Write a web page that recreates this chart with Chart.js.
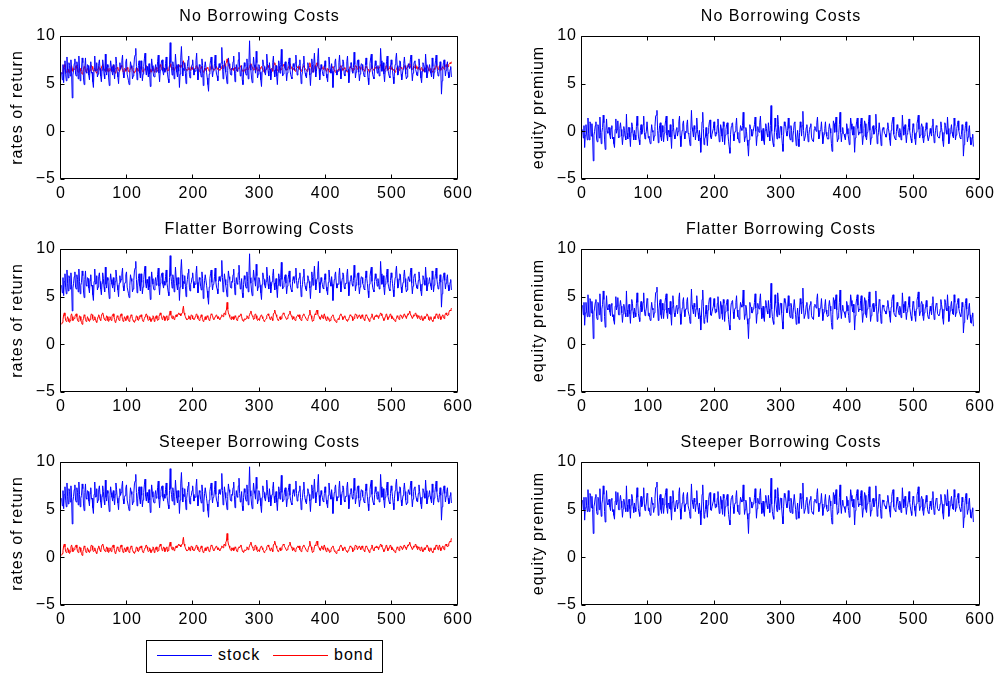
<!DOCTYPE html>
<html><head><meta charset="utf-8">
<script src="https://cdn.jsdelivr.net/npm/chart.js@4.4.1/dist/chart.umd.min.js"></script>
<style>
html,body{margin:0;padding:0;background:#fff;width:1000px;height:675px;overflow:hidden;position:relative;font-family:"Liberation Sans",Arial,sans-serif;}
.wrap{position:absolute;}
.ttl{position:absolute;font-size:16px;line-height:18px;letter-spacing:1px;color:#000;text-align:center;white-space:nowrap;}
#legend{position:absolute;left:146px;top:640px;width:235px;height:31px;border:1px solid #000;background:#fff;}
#legend .ln{position:absolute;height:1px;width:55px;top:14px;}
#legend .tx{position:absolute;top:5px;font-size:16px;line-height:18px;letter-spacing:1px;color:#000;}
</style></head><body>
<script>
// ---- data (x = 1, 2, 3, ... 590) ----
const xStart = 1, xStep = 1;
const panelTitles = ["No Borrowing Costs", "Flatter Borrowing Costs", "Steeper Borrowing Costs"];
const leftLabel = "rates of return";
const rightLabel = "equity premium";
const xTicks = [0, 100, 200, 300, 400, 500, 600];
const yTicks = [-5, 0, 5, 10];
const seriesNames = ["stock", "bond"];

const stock = [
6.2,5.4,7.0,5.1,6.6,7.4,6.0,5.3,7.8,6.4,
5.6,7.2,6.9,5.8,7.5,6.3,3.5,5.9,6.4,7.1,
7.6,6.0,5.8,7.3,6.8,5.5,7.9,6.6,5.3,6.2,
6.5,7.7,7.2,5.6,4.9,6.8,7.7,6.2,6.1,7.0,
6.9,5.9,5.4,6.7,7.3,6.1,6.2,5.2,4.6,6.6,
7.9,6.3,6.4,7.2,5.7,6.0,7.1,7.5,6.6,5.8,
5.2,6.4,7.5,6.9,6.0,5.5,8.1,6.3,5.9,7.0,
6.7,5.6,4.8,6.5,7.4,6.8,6.3,5.9,7.0,6.2,
5.5,6.6,7.8,7.1,6.2,5.7,5.0,6.4,7.2,6.5,
6.8,7.4,8.0,6.1,5.6,6.3,6.5,7.3,7.6,6.0,
6.0,5.3,4.9,6.2,7.3,6.9,6.6,5.5,5.8,6.7,
7.7,8.0,8.7,6.8,5.4,6.2,6.9,7.4,6.1,5.6,
7.4,6.5,5.3,6.0,6.8,7.6,8.2,6.4,5.9,6.8,
6.4,5.7,7.1,6.0,4.7,6.3,7.6,6.9,6.3,5.8,
5.7,6.6,7.0,6.2,6.5,7.3,8.0,6.1,5.2,6.4,
6.9,7.4,7.5,6.3,5.9,6.6,6.2,7.1,7.8,6.5,
6.0,5.5,5.1,7.0,9.3,7.2,6.6,5.9,7.3,6.8,
5.5,6.4,8.1,7.0,6.2,5.7,7.0,6.3,4.6,6.0,
7.7,8.9,7.3,5.8,6.6,6.4,7.2,6.1,5.0,6.2,
6.8,7.5,7.9,6.0,5.6,6.3,6.5,7.0,7.5,6.6,
5.9,6.4,6.3,7.4,8.2,6.5,5.4,6.1,7.0,6.8,
6.1,5.7,7.6,6.9,4.8,5.9,6.7,7.3,7.3,6.2,
5.6,4.9,4.2,6.0,6.9,7.4,7.8,6.5,5.7,6.3,
6.4,7.1,8.0,6.6,6.0,5.8,5.3,6.5,7.1,6.7,
6.6,7.2,8.8,7.0,5.5,6.3,7.4,6.8,6.2,5.7,
5.0,6.4,7.7,7.1,6.8,6.0,5.9,6.6,6.5,7.3,
7.9,6.5,5.2,6.1,7.0,6.4,6.3,7.5,8.3,6.7,
5.8,6.2,6.9,5.4,4.9,6.3,7.2,6.8,6.1,5.9,
7.6,6.6,5.5,7.2,9.5,7.0,6.4,5.6,5.1,6.5,
7.8,7.0,6.7,6.1,8.4,7.2,5.6,6.0,7.0,6.8,
6.2,5.4,4.7,6.3,7.5,7.0,6.8,6.2,5.9,6.6,
8.1,7.1,6.3,5.8,7.2,6.5,5.4,6.1,6.6,7.2,
7.9,6.4,5.7,6.3,6.9,5.8,4.9,6.2,7.4,6.9,
6.1,7.0,8.6,6.8,5.8,6.0,6.5,7.1,7.3,6.4,
5.3,6.1,6.8,7.3,7.7,6.5,6.0,5.7,5.5,6.6,
7.1,6.8,6.4,7.2,8.0,6.7,5.9,6.2,6.7,7.0,
7.5,6.3,5.0,5.8,6.3,7.1,7.9,6.6,6.1,5.8,
5.6,6.5,7.2,6.9,6.6,5.9,4.8,6.1,7.6,7.0,
6.2,7.1,8.2,6.8,5.7,6.3,6.9,7.6,8.7,6.5,
5.4,6.2,7.0,6.6,6.3,5.9,5.8,6.7,7.4,6.8,
6.0,5.6,5.2,6.5,7.8,7.0,6.5,6.1,7.1,6.3,
4.6,5.9,6.8,7.3,7.6,6.4,5.9,6.3,6.3,7.2,
8.0,6.6,5.5,6.2,6.9,7.5,7.3,6.0,5.8,6.4,
6.4,7.3,7.9,6.5,5.1,5.9,6.7,7.2,7.2,6.3,
6.1,6.7,8.3,7.0,5.6,6.2,6.6,7.4,7.5,6.2,
5.3,6.0,6.8,7.1,7.0,6.4,6.2,5.8,5.7,6.9,
7.7,7.0,6.4,5.6,4.9,6.3,7.1,7.7,8.1,6.6,
6.0,5.7,5.5,6.6,7.4,6.9,6.6,6.1,6.9,6.4,
5.8,6.2,8.7,7.4,6.3,6.8,7.2,6.0,5.2,6.3,
6.7,7.3,7.9,6.5,6.1,5.8,5.6,6.7,7.5,7.0,
6.4,5.7,5.0,6.2,7.0,7.6,8.2,6.9,5.9,6.1,
6.8,7.4,7.3,6.0,5.4,6.0,6.5,7.1,7.8,6.9,
6.0,5.5,5.7,6.6,7.1,6.8,6.6,7.5,8.0,6.4,
5.3,6.1,6.9,7.3,7.4,6.5,6.2,5.9,5.8,6.7,
7.6,6.9,6.3,5.6,5.1,6.3,7.2,7.0,6.7,6.2,
8.1,7.0,5.6,6.0,6.4,6.6,7.0,6.4,6.1,5.7,
7.7,6.8,5.5,6.2,6.8,7.4,8.0,6.9,6.3,5.8,
5.9,6.6,7.3,6.5,3.9,5.3,6.6,7.2,7.5,6.7,
5.8,6.4,6.9,7.3,6.2,5.6,5.7,6.5,6.8,5.7];

const bondNo = [
6.0,6.1,6.4,6.8,7.0,6.7,6.3,6.2,6.4,6.6,
6.5,6.2,6.1,6.3,6.7,6.9,6.6,6.3,6.4,6.5,
6.6,6.8,6.9,6.6,6.3,6.2,6.4,6.7,6.6,6.3,
6.1,6.0,6.3,6.5,6.8,6.7,6.4,6.2,6.3,6.6,
6.5,6.3,6.2,6.4,6.7,6.9,6.8,6.5,6.3,6.4,
6.6,6.5,6.2,6.1,6.4,6.6,6.8,6.6,6.4,6.3,
6.6,6.9,7.0,6.8,6.5,6.4,6.3,6.5,6.7,6.6,
6.3,6.2,6.4,6.6,6.5,6.3,6.6,6.8,6.9,6.6,
6.4,6.1,6.2,6.5,6.7,6.6,6.4,6.3,6.5,6.8,
6.9,6.7,6.4,6.2,6.4,6.6,6.5,6.3,6.6,6.7,
6.5,6.3,6.2,6.4,6.6,6.8,6.7,6.5,6.3,6.2,
6.1,6.3,6.5,6.7,6.6,6.4,6.3,6.5,6.7,6.6,
6.8,6.6,6.4,6.2,6.3,6.5,6.6,6.8,6.9,6.7,
6.5,6.3,6.4,6.6,6.5,6.2,6.3,6.5,6.7,6.6,
6.2,6.4,6.6,6.7,6.5,6.3,6.4,6.6,6.8,7.0,
6.8,6.6,6.4,6.5,6.7,6.6,6.3,6.4,6.6,6.7,
6.3,6.4,6.6,6.9,7.1,6.8,6.6,6.5,6.7,6.6,
6.4,6.5,6.7,6.8,6.6,6.7,6.9,7.0,6.8,6.9,
6.7,6.9,7.0,7.2,7.4,7.0,6.8,6.6,6.5,6.4,
6.4,6.5,6.7,6.6,6.4,6.6,6.8,6.7,6.5,6.5,
6.4,6.5,6.6,6.8,6.9,6.7,6.5,6.4,6.3,6.5,
6.6,6.8,6.6,6.4,6.2,6.3,6.5,6.6,6.4,6.5,
6.7,6.6,6.5,6.3,6.4,6.6,6.9,6.8,6.7,6.5,
6.4,6.5,6.6,6.7,6.8,6.6,6.5,6.6,6.5,6.4,
6.5,6.6,6.8,6.7,6.6,6.9,7.0,6.8,7.1,7.2,
7.6,7.3,7.0,6.8,6.6,6.5,6.4,6.6,6.5,6.6,
6.4,6.5,6.7,6.6,6.5,6.3,6.4,6.6,6.7,6.6,
6.8,6.9,6.6,6.4,6.3,6.2,6.4,6.5,6.4,6.5,
6.7,6.6,6.5,6.6,6.8,7.0,7.1,6.9,6.7,6.6,
6.4,6.5,6.8,6.9,6.7,6.5,6.3,6.4,6.5,6.3,
6.6,6.7,6.8,6.6,6.5,6.4,6.2,6.3,6.4,6.5,
6.7,6.8,6.9,6.7,6.6,6.4,6.5,6.6,6.5,6.3,
6.9,7.0,7.2,7.0,6.8,6.6,6.5,6.3,6.4,6.5,
6.6,6.4,6.5,6.7,6.8,7.0,6.9,6.7,6.6,6.6,
6.4,6.5,6.6,6.8,6.9,7.1,6.9,6.7,6.6,6.4,
6.6,6.5,6.4,6.3,6.5,6.6,6.7,6.8,6.6,6.8,
6.5,6.4,6.3,6.5,6.6,6.8,6.9,6.7,6.6,6.6,
6.4,6.3,6.4,6.6,6.8,7.2,6.9,6.7,6.5,6.2,
6.3,6.4,6.7,6.9,6.8,7.1,7.2,6.9,6.7,6.6,
6.5,6.4,6.6,6.8,6.6,6.5,6.7,6.9,6.6,6.5,
6.3,6.4,6.6,6.5,6.4,6.2,6.3,6.5,6.6,6.7,
6.8,6.6,6.4,6.3,6.2,6.1,6.3,6.4,6.5,6.4,
6.6,6.8,6.9,6.7,6.6,6.4,6.5,6.6,6.7,6.5,
6.4,6.3,6.2,6.4,6.5,6.6,6.8,6.7,6.6,6.6,
6.3,6.4,6.5,6.7,6.9,6.8,6.7,6.5,6.6,6.7,
6.8,6.6,6.5,6.7,6.8,6.6,6.5,6.4,6.3,6.6,
6.8,6.7,6.6,6.5,6.4,6.2,6.4,6.5,6.6,6.9,
6.6,6.5,6.4,6.6,6.7,6.6,6.8,6.7,6.6,6.5,
6.7,6.8,7.0,6.9,6.7,6.6,6.5,6.3,6.4,6.6,
6.8,6.9,6.6,6.4,6.5,6.6,6.8,6.9,6.7,6.5,
6.6,6.5,6.4,6.3,6.2,6.4,6.5,6.7,6.6,6.5,
6.4,6.6,6.8,6.7,6.6,6.5,6.6,6.8,6.9,6.7,
6.6,6.5,6.7,6.9,6.8,7.0,7.1,6.9,6.7,6.6,
6.5,6.6,6.8,6.7,6.9,7.0,6.8,6.6,6.5,6.7,
6.6,6.5,6.4,6.6,6.7,6.5,6.3,6.4,6.6,6.5,
6.6,6.7,6.9,6.8,6.6,6.4,6.3,6.5,6.6,6.4,
6.3,6.2,6.4,6.6,6.5,6.7,6.9,6.8,6.6,6.5,
6.7,6.9,6.6,6.4,6.5,6.7,6.8,6.6,6.5,6.7,
6.9,7.0,6.8,6.7,6.8,7.0,7.1,7.2,7.1,7.3];

const bondFlat = [
2.1,2.3,2.6,3.1,3.3,3.0,2.5,2.4,2.6,2.9,
2.7,2.4,2.3,2.5,3.0,3.2,2.9,2.5,2.6,2.7,
2.9,3.1,3.2,2.9,2.5,2.4,2.6,3.0,2.9,2.5,
2.3,2.1,2.5,2.7,3.1,3.0,2.6,2.4,2.5,2.9,
2.7,2.5,2.4,2.6,3.0,3.2,3.1,2.7,2.5,2.6,
2.9,2.7,2.4,2.3,2.6,2.9,3.1,2.9,2.6,2.5,
2.9,3.2,3.3,3.1,2.7,2.6,2.5,2.7,3.0,2.9,
2.5,2.4,2.6,2.9,2.7,2.5,2.9,3.1,3.2,2.9,
2.6,2.3,2.4,2.7,3.0,2.9,2.6,2.5,2.7,3.1,
3.2,3.0,2.6,2.4,2.6,2.9,2.7,2.5,2.9,3.0,
2.7,2.5,2.4,2.6,2.9,3.1,3.0,2.7,2.5,2.4,
2.3,2.5,2.7,3.0,2.9,2.6,2.5,2.7,3.0,2.9,
3.1,2.9,2.6,2.4,2.5,2.7,2.9,3.1,3.2,3.0,
2.7,2.5,2.6,2.9,2.7,2.4,2.5,2.7,3.0,2.9,
2.4,2.6,2.9,3.0,2.7,2.5,2.6,2.9,3.1,3.3,
3.1,2.9,2.6,2.7,3.0,2.9,2.5,2.6,2.9,3.0,
2.5,2.6,2.9,3.2,3.5,3.1,2.9,2.7,3.0,2.9,
2.6,2.7,3.0,3.1,2.9,3.0,3.2,3.3,3.1,3.2,
3.0,3.2,3.3,3.6,4.0,3.3,3.1,2.9,2.7,2.6,
2.6,2.7,3.0,2.9,2.6,2.9,3.1,3.0,2.7,2.7,
2.6,2.7,2.9,3.1,3.2,3.0,2.7,2.6,2.5,2.7,
2.9,3.1,2.9,2.6,2.4,2.5,2.7,2.9,2.6,2.7,
3.0,2.9,2.7,2.5,2.6,2.9,3.2,3.1,3.0,2.7,
2.6,2.7,2.9,3.0,3.1,2.9,2.7,2.9,2.7,2.6,
2.7,2.9,3.1,3.0,2.9,3.2,3.3,3.1,3.5,3.6,
4.4,3.7,3.3,3.1,2.9,2.7,2.6,2.9,2.7,2.9,
2.6,2.7,3.0,2.9,2.7,2.5,2.6,2.9,3.0,2.9,
3.1,3.2,2.9,2.6,2.5,2.4,2.6,2.7,2.6,2.7,
3.0,2.9,2.7,2.9,3.1,3.3,3.5,3.2,3.0,2.9,
2.6,2.7,3.1,3.2,3.0,2.7,2.5,2.6,2.7,2.5,
2.9,3.0,3.1,2.9,2.7,2.6,2.4,2.5,2.6,2.7,
3.0,3.1,3.2,3.0,2.9,2.6,2.7,2.9,2.7,2.5,
3.2,3.3,3.6,3.3,3.1,2.9,2.7,2.5,2.6,2.7,
2.9,2.6,2.7,3.0,3.1,3.3,3.2,3.0,2.9,2.9,
2.6,2.7,2.9,3.1,3.2,3.5,3.2,3.0,2.9,2.6,
2.9,2.7,2.6,2.5,2.7,2.9,3.0,3.1,2.9,3.1,
2.7,2.6,2.5,2.7,2.9,3.1,3.2,3.0,2.9,2.9,
2.6,2.5,2.6,2.9,3.1,3.6,3.2,3.0,2.7,2.4,
2.5,2.6,3.0,3.2,3.1,3.5,3.6,3.2,3.0,2.9,
2.7,2.6,2.9,3.1,2.9,2.7,3.0,3.2,2.9,2.7,
2.5,2.6,2.9,2.7,2.6,2.4,2.5,2.7,2.9,3.0,
3.1,2.9,2.6,2.5,2.4,2.3,2.5,2.6,2.7,2.6,
2.9,3.1,3.2,3.0,2.9,2.6,2.7,2.9,3.0,2.7,
2.6,2.5,2.4,2.6,2.7,2.9,3.1,3.0,2.9,2.9,
2.5,2.6,2.7,3.0,3.2,3.1,3.0,2.7,2.9,3.0,
3.1,2.9,2.7,3.0,3.1,2.9,2.7,2.6,2.5,2.9,
3.1,3.0,2.9,2.7,2.6,2.4,2.6,2.7,2.9,3.2,
2.9,2.7,2.6,2.9,3.0,2.9,3.1,3.0,2.9,2.7,
3.0,3.1,3.3,3.2,3.0,2.9,2.7,2.5,2.6,2.9,
3.1,3.2,2.9,2.6,2.7,2.9,3.1,3.2,3.0,2.7,
2.9,2.7,2.6,2.5,2.4,2.6,2.7,3.0,2.9,2.7,
2.6,2.9,3.1,3.0,2.9,2.7,2.9,3.1,3.2,3.0,
2.9,2.7,3.0,3.2,3.1,3.3,3.5,3.2,3.0,2.9,
2.7,2.9,3.1,3.0,3.2,3.3,3.1,2.9,2.7,3.0,
2.9,2.7,2.6,2.9,3.0,2.7,2.5,2.6,2.9,2.7,
2.9,3.0,3.2,3.1,2.9,2.6,2.5,2.7,2.9,2.6,
2.5,2.4,2.6,2.9,2.7,3.0,3.2,3.1,2.9,2.7,
3.0,3.2,2.9,2.6,2.7,3.0,3.1,2.9,2.7,3.0,
3.2,3.3,3.1,3.0,3.1,3.3,3.5,3.6,3.5,3.8];

const bondSteep = [
0.2,0.4,0.7,1.2,1.4,1.1,0.6,0.5,0.7,1.0,
0.8,0.5,0.4,0.6,1.1,1.3,1.0,0.6,0.7,0.8,
1.0,1.2,1.3,1.0,0.6,0.5,0.7,1.1,1.0,0.6,
0.4,0.2,0.6,0.8,1.2,1.1,0.7,0.5,0.6,1.0,
0.8,0.6,0.5,0.7,1.1,1.3,1.2,0.8,0.6,0.7,
1.0,0.8,0.5,0.4,0.7,1.0,1.2,1.0,0.7,0.6,
1.0,1.3,1.4,1.2,0.8,0.7,0.6,0.8,1.1,1.0,
0.6,0.5,0.7,1.0,0.8,0.6,1.0,1.2,1.3,1.0,
0.7,0.4,0.5,0.8,1.1,1.0,0.7,0.6,0.8,1.2,
1.3,1.1,0.7,0.5,0.7,1.0,0.8,0.6,1.0,1.1,
0.8,0.6,0.5,0.7,1.0,1.2,1.1,0.8,0.6,0.5,
0.4,0.6,0.8,1.1,1.0,0.7,0.6,0.8,1.1,1.0,
1.2,1.0,0.7,0.5,0.6,0.8,1.0,1.2,1.3,1.1,
0.8,0.6,0.7,1.0,0.8,0.5,0.6,0.8,1.1,1.0,
0.5,0.7,1.0,1.1,0.8,0.6,0.7,1.0,1.2,1.4,
1.2,1.0,0.7,0.8,1.1,1.0,0.6,0.7,1.0,1.1,
0.6,0.7,1.0,1.3,1.6,1.2,1.0,0.8,1.1,1.0,
0.7,0.8,1.1,1.2,1.0,1.1,1.3,1.4,1.2,1.3,
1.1,1.3,1.4,1.7,2.1,1.4,1.2,1.0,0.8,0.7,
0.7,0.8,1.1,1.0,0.7,1.0,1.2,1.1,0.8,0.8,
0.7,0.8,1.0,1.2,1.3,1.1,0.8,0.7,0.6,0.8,
1.0,1.2,1.0,0.7,0.5,0.6,0.8,1.0,0.7,0.8,
1.1,1.0,0.8,0.6,0.7,1.0,1.3,1.2,1.1,0.8,
0.7,0.8,1.0,1.1,1.2,1.0,0.8,1.0,0.8,0.7,
0.8,1.0,1.2,1.1,1.0,1.3,1.4,1.2,1.6,1.7,
2.5,1.8,1.4,1.2,1.0,0.8,0.7,1.0,0.8,1.0,
0.7,0.8,1.1,1.0,0.8,0.6,0.7,1.0,1.1,1.0,
1.2,1.3,1.0,0.7,0.6,0.5,0.7,0.8,0.7,0.8,
1.1,1.0,0.8,1.0,1.2,1.4,1.6,1.3,1.1,1.0,
0.7,0.8,1.2,1.3,1.1,0.8,0.6,0.7,0.8,0.6,
1.0,1.1,1.2,1.0,0.8,0.7,0.5,0.6,0.7,0.8,
1.1,1.2,1.3,1.1,1.0,0.7,0.8,1.0,0.8,0.6,
1.3,1.4,1.7,1.4,1.2,1.0,0.8,0.6,0.7,0.8,
1.0,0.7,0.8,1.1,1.2,1.4,1.3,1.1,1.0,1.0,
0.7,0.8,1.0,1.2,1.3,1.6,1.3,1.1,1.0,0.7,
1.0,0.8,0.7,0.6,0.8,1.0,1.1,1.2,1.0,1.2,
0.8,0.7,0.6,0.8,1.0,1.2,1.3,1.1,1.0,1.0,
0.7,0.6,0.7,1.0,1.2,1.7,1.3,1.1,0.8,0.5,
0.6,0.7,1.1,1.3,1.2,1.6,1.7,1.3,1.1,1.0,
0.8,0.7,1.0,1.2,1.0,0.8,1.1,1.3,1.0,0.8,
0.6,0.7,1.0,0.8,0.7,0.5,0.6,0.8,1.0,1.1,
1.2,1.0,0.7,0.6,0.5,0.4,0.6,0.7,0.8,0.7,
1.0,1.2,1.3,1.1,1.0,0.7,0.8,1.0,1.1,0.8,
0.7,0.6,0.5,0.7,0.8,1.0,1.2,1.1,1.0,1.0,
0.6,0.7,0.8,1.1,1.3,1.2,1.1,0.8,1.0,1.1,
1.2,1.0,0.8,1.1,1.2,1.0,0.8,0.7,0.6,1.0,
1.2,1.1,1.0,0.8,0.7,0.5,0.7,0.8,1.0,1.3,
1.0,0.8,0.7,1.0,1.1,1.0,1.2,1.1,1.0,0.8,
1.1,1.2,1.4,1.3,1.1,1.0,0.8,0.6,0.7,1.0,
1.2,1.3,1.0,0.7,0.8,1.0,1.2,1.3,1.1,0.8,
1.0,0.8,0.7,0.6,0.5,0.7,0.8,1.1,1.0,0.8,
0.7,1.0,1.2,1.1,1.0,0.8,1.0,1.2,1.3,1.1,
1.0,0.8,1.1,1.3,1.2,1.4,1.6,1.3,1.1,1.0,
0.8,1.0,1.2,1.1,1.3,1.4,1.2,1.0,0.8,1.1,
1.0,0.8,0.7,1.0,1.1,0.8,0.6,0.7,1.0,0.8,
1.0,1.1,1.3,1.2,1.0,0.7,0.6,0.8,1.0,0.7,
0.6,0.5,0.7,1.0,0.8,1.1,1.3,1.2,1.0,0.8,
1.1,1.3,1.0,0.7,0.8,1.1,1.2,1.0,0.8,1.1,
1.3,1.4,1.2,1.1,1.2,1.4,1.6,1.7,1.6,2.0];

const bondSets = [bondNo, bondFlat, bondSteep];

// ---- layout ----
const FONT = '"Liberation Sans", Arial, sans-serif';
const PLOT_H = 143;
const colLeft = [61, 582];
const colWidth = [397, 398];
const rowTop = [36, 249, 462];
const BLUE = '#0000ff', RED = '#ff0000';

function pts(arr){ return arr.map((v,i)=>({x: xStart + xStep*i, y: v})); }

const lsPlugin = {
  id:'ls',
  beforeLayout(c){ c.ctx.letterSpacing = '1px'; },
  beforeDraw(c){ c.ctx.letterSpacing = '1px'; }
};
const boxPlugin = {
  id:'box',
  afterDraw(chart){
    const {ctx, chartArea:a, scales:{x, y}} = chart;
    ctx.save();
    ctx.strokeStyle = '#000'; ctx.lineWidth = 1;
    const L = Math.round(a.left) - 0.5, R = Math.round(a.right) - 0.5;
    const T = Math.round(a.top) + 0.5, B = Math.round(a.bottom) - 0.5;
    ctx.beginPath();
    ctx.rect(L, T, R - L, B - T);
    const tl = 4;
    xTicks.forEach(v => {
      const px = Math.round(x.getPixelForValue(v)) - 0.5;
      ctx.moveTo(px, B); ctx.lineTo(px, B - tl);
      ctx.moveTo(px, T); ctx.lineTo(px, T + tl);
    });
    yTicks.forEach(v => {
      const py = Math.round(y.getPixelForValue(v)) + 0.5;
      ctx.moveTo(L, py); ctx.lineTo(L + tl, py);
      ctx.moveTo(R, py); ctx.lineTo(R - tl, py);
    });
    ctx.stroke();
    ctx.restore();
  }
};

function makePanel(col, row, datasets, yLabel){
  const PW = colWidth[col];
  const W = 61 + PW + 25, H = 20 + PLOT_H + 30;
  const wrap = document.createElement('div');
  wrap.className = 'wrap';
  wrap.style.left = (colLeft[col] - 61) + 'px';
  wrap.style.top = (rowTop[row] - 20) + 'px';
  wrap.style.width = W + 'px'; wrap.style.height = H + 'px';
  const cv = document.createElement('canvas');
  cv.width = W; cv.height = H;
  cv.style.width = W + 'px'; cv.style.height = H + 'px';
  wrap.appendChild(cv);
  document.body.appendChild(wrap);

  const t = document.createElement('div');
  t.className = 'ttl';
  t.textContent = panelTitles[row];
  t.style.left = colLeft[col] + 'px';
  t.style.width = PW + 'px';
  t.style.top = (rowTop[row] - 29) + 'px';
  document.body.appendChild(t);

  const font = {family: FONT, size: 16};
  new Chart(cv, {
    type: 'line',
    data: {datasets},
    options: {
      responsive: false, animation: false, events: [],
      devicePixelRatio: 1,
      layout: {padding: {left: 0, right: 25, top: 20, bottom: 0}},
      plugins: {legend: {display: false}, tooltip: {enabled: false}, title: {display: false}},
      elements: {point: {radius: 0}, line: {borderWidth: 1, tension: 0}},
      scales: {
        x: {
          type: 'linear', min: 0, max: 600,
          afterFit(s){ s.height = 30; },
          afterBuildTicks(s){ s.ticks = xTicks.map(v => ({value: v})); },
          ticks: {color: '#000', font, padding: 5, maxRotation: 0, autoSkip: false},
          grid: {display: false, drawTicks: false},
          border: {display: false}
        },
        y: {
          type: 'linear', min: -5, max: 10,
          afterFit(s){ s.width = 61; },
          afterBuildTicks(s){ s.ticks = yTicks.map(v => ({value: v})); },
          ticks: {color: '#000', font, padding: 5, callback: v => String(v).replace('-', '\u2212')},
          grid: {display: false, drawTicks: false},
          border: {display: false},
          title: {display: true, text: yLabel, color: '#000', font, padding: {top: 8, bottom: 0}}
        }
      }
    },
    plugins: [lsPlugin, boxPlugin]
  });
}

for (let r = 0; r < 3; r++){
  const bond = bondSets[r];
  makePanel(0, r, [
    {label: seriesNames[0], data: pts(stock), borderColor: BLUE, borderWidth: 1, pointRadius: 0},
    {label: seriesNames[1], data: pts(bond), borderColor: RED, borderWidth: 1, pointRadius: 0}
  ], leftLabel);
  const premium = stock.map((v, i) => Math.round((v - bond[i]) * 100) / 100);
  makePanel(1, r, [
    {label: 'equity premium', data: pts(premium), borderColor: BLUE, borderWidth: 1, pointRadius: 0}
  ], rightLabel);
}
</script>
<div id="legend">
  <div class="ln" style="left:10px;background:#0000ff"></div>
  <div class="tx" style="left:71px">stock</div>
  <div class="ln" style="left:126px;background:#ff0000"></div>
  <div class="tx" style="left:187px">bond</div>
</div>
</body></html>
